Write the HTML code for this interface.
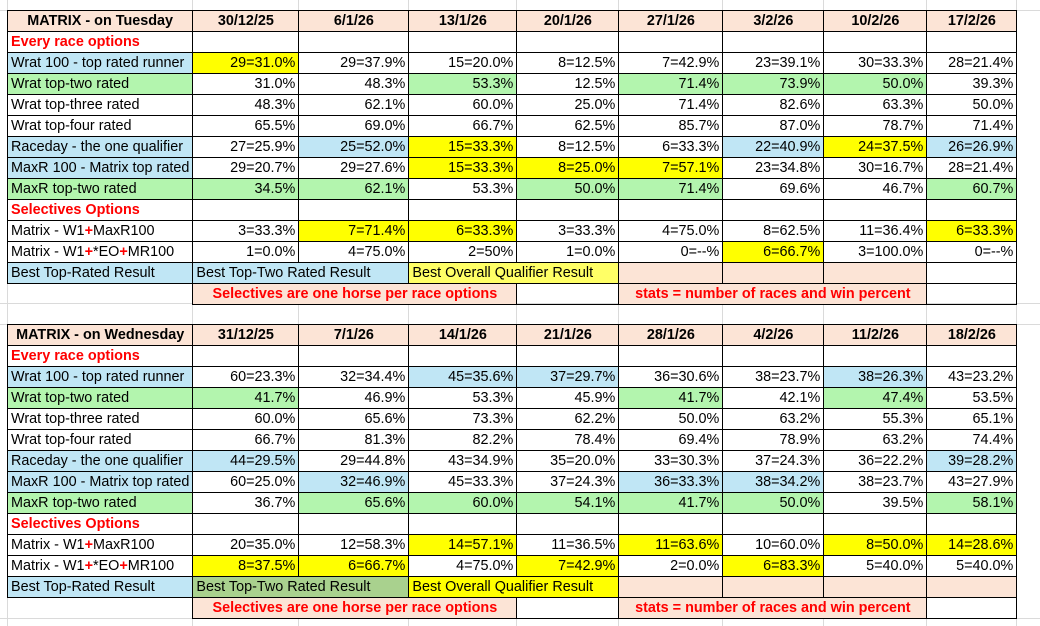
<!DOCTYPE html>
<html><head><meta charset="utf-8"><style>
body{margin:0;width:1040px;height:626px;background:#fff;position:relative;overflow:hidden;font-family:"Liberation Sans",sans-serif;}
.gv{position:absolute;top:0;height:626px;width:1px;background:#dadada}
.gh{position:absolute;left:0;width:1040px;height:1px;background:#dadada}
table{position:absolute;left:7px;border-collapse:collapse;table-layout:fixed;font-size:14.4px;color:#000}
td{border:1px solid #000;height:20px;padding:0 3px;white-space:nowrap;overflow:hidden;text-align:right;line-height:20px}
td.l{text-align:left}
tr.h td{background:#fce4d6;font-weight:bold;text-align:center}
.r{color:#f00;font-weight:bold;text-align:left}
.b{background:#c0e6f5}.g{background:#b3f5ae}.y{background:#ffff00}.p{background:#fce4d6}.ly{background:#ffff66}.dg{background:#a9d18e}
.n{border:none;background:transparent}
.note{color:#f00;font-weight:bold;text-align:center}
.plus{color:#f00;font-weight:bold}
</style></head><body>
<div class="gv" style="left:7px"></div><div class="gv" style="left:192px"></div><div class="gv" style="left:298px"></div><div class="gv" style="left:408px"></div><div class="gv" style="left:516px"></div><div class="gv" style="left:618px"></div><div class="gv" style="left:722px"></div><div class="gv" style="left:823px"></div><div class="gv" style="left:926px"></div><div class="gv" style="left:1016px"></div>
<div class="gh" style="top:10px"></div><div class="gh" style="top:303px"></div><div class="gh" style="top:324px"></div><div class="gh" style="top:618px"></div>

<table style="top:10px">
<colgroup><col style="width:185px"><col style="width:106px"><col style="width:110px"><col style="width:108px"><col style="width:102px"><col style="width:104px"><col style="width:101px"><col style="width:103px"><col style="width:90px"></colgroup>
<tr class="h"><td>MATRIX - on Tuesday</td><td>30/12/25</td><td>6/1/26</td><td>13/1/26</td><td>20/1/26</td><td>27/1/26</td><td>3/2/26</td><td>10/2/26</td><td>17/2/26</td></tr>
<tr><td class="r">Every race options</td><td></td><td></td><td></td><td></td><td></td><td></td><td></td><td></td></tr>
<tr><td class="l b">Wrat 100 - top rated runner</td><td class="y">29=31.0%</td><td>29=37.9%</td><td>15=20.0%</td><td>8=12.5%</td><td>7=42.9%</td><td>23=39.1%</td><td>30=33.3%</td><td>28=21.4%</td></tr>
<tr><td class="l g">Wrat top-two rated</td><td>31.0%</td><td>48.3%</td><td class="g">53.3%</td><td>12.5%</td><td class="g">71.4%</td><td class="g">73.9%</td><td class="g">50.0%</td><td>39.3%</td></tr>
<tr><td class="l">Wrat top-three rated</td><td>48.3%</td><td>62.1%</td><td>60.0%</td><td>25.0%</td><td>71.4%</td><td>82.6%</td><td>63.3%</td><td>50.0%</td></tr>
<tr><td class="l">Wrat top-four rated</td><td>65.5%</td><td>69.0%</td><td>66.7%</td><td>62.5%</td><td>85.7%</td><td>87.0%</td><td>78.7%</td><td>71.4%</td></tr>
<tr><td class="l b">Raceday - the one qualifier</td><td>27=25.9%</td><td class="b">25=52.0%</td><td class="y">15=33.3%</td><td>8=12.5%</td><td>6=33.3%</td><td class="b">22=40.9%</td><td class="y">24=37.5%</td><td class="b">26=26.9%</td></tr>
<tr><td class="l b">MaxR 100 - Matrix top rated</td><td>29=20.7%</td><td>29=27.6%</td><td class="y">15=33.3%</td><td class="y">8=25.0%</td><td class="y">7=57.1%</td><td>23=34.8%</td><td>30=16.7%</td><td>28=21.4%</td></tr>
<tr><td class="l g">MaxR top-two rated</td><td class="g">34.5%</td><td class="g">62.1%</td><td>53.3%</td><td class="g">50.0%</td><td class="g">71.4%</td><td>69.6%</td><td>46.7%</td><td class="g">60.7%</td></tr>
<tr><td class="r">Selectives Options</td><td></td><td></td><td></td><td></td><td></td><td></td><td></td><td></td></tr>
<tr><td class="l">Matrix - W1<span class="plus">+</span>MaxR100</td><td>3=33.3%</td><td class="y">7=71.4%</td><td class="y">6=33.3%</td><td>3=33.3%</td><td>4=75.0%</td><td>8=62.5%</td><td>11=36.4%</td><td class="y">6=33.3%</td></tr>
<tr><td class="l">Matrix - W1<span class="plus">+</span>*EO<span class="plus">+</span>MR100</td><td>1=0.0%</td><td>4=75.0%</td><td>2=50%</td><td>1=0.0%</td><td>0=--%</td><td class="y">6=66.7%</td><td>3=100.0%</td><td>0=--%</td></tr>
<tr><td class="l b">Best Top-Rated Result</td><td class="l b" colspan="2">Best Top-Two Rated Result</td><td class="l ly" colspan="2">Best Overall Qualifier Result</td><td class="p"></td><td class="p"></td><td class="p"></td><td></td></tr>
<tr><td class="n"></td><td class="p note" colspan="3">Selectives are one horse per race options</td><td></td><td class="p note" colspan="3">stats = number of races and win percent</td><td></td></tr>
</table>

<table style="top:324px">
<colgroup><col style="width:185px"><col style="width:106px"><col style="width:110px"><col style="width:108px"><col style="width:102px"><col style="width:104px"><col style="width:101px"><col style="width:103px"><col style="width:90px"></colgroup>
<tr class="h"><td>MATRIX - on Wednesday</td><td>31/12/25</td><td>7/1/26</td><td>14/1/26</td><td>21/1/26</td><td>28/1/26</td><td>4/2/26</td><td>11/2/26</td><td>18/2/26</td></tr>
<tr><td class="r">Every race options</td><td></td><td></td><td></td><td></td><td></td><td></td><td></td><td></td></tr>
<tr><td class="l b">Wrat 100 - top rated runner</td><td>60=23.3%</td><td>32=34.4%</td><td class="b">45=35.6%</td><td class="b">37=29.7%</td><td>36=30.6%</td><td>38=23.7%</td><td class="b">38=26.3%</td><td>43=23.2%</td></tr>
<tr><td class="l g">Wrat top-two rated</td><td class="g">41.7%</td><td>46.9%</td><td>53.3%</td><td>45.9%</td><td class="g">41.7%</td><td>42.1%</td><td class="g">47.4%</td><td>53.5%</td></tr>
<tr><td class="l">Wrat top-three rated</td><td>60.0%</td><td>65.6%</td><td>73.3%</td><td>62.2%</td><td>50.0%</td><td>63.2%</td><td>55.3%</td><td>65.1%</td></tr>
<tr><td class="l">Wrat top-four rated</td><td>66.7%</td><td>81.3%</td><td>82.2%</td><td>78.4%</td><td>69.4%</td><td>78.9%</td><td>63.2%</td><td>74.4%</td></tr>
<tr><td class="l b">Raceday - the one qualifier</td><td class="b">44=29.5%</td><td>29=44.8%</td><td>43=34.9%</td><td>35=20.0%</td><td>33=30.3%</td><td>37=24.3%</td><td>36=22.2%</td><td class="b">39=28.2%</td></tr>
<tr><td class="l b">MaxR 100 - Matrix top rated</td><td>60=25.0%</td><td class="b">32=46.9%</td><td>45=33.3%</td><td>37=24.3%</td><td class="b">36=33.3%</td><td class="b">38=34.2%</td><td>38=23.7%</td><td>43=27.9%</td></tr>
<tr><td class="l g">MaxR top-two rated</td><td>36.7%</td><td class="g">65.6%</td><td class="g">60.0%</td><td class="g">54.1%</td><td class="g">41.7%</td><td class="g">50.0%</td><td>39.5%</td><td class="g">58.1%</td></tr>
<tr><td class="r">Selectives Options</td><td></td><td></td><td></td><td></td><td></td><td></td><td></td><td></td></tr>
<tr><td class="l">Matrix - W1<span class="plus">+</span>MaxR100</td><td>20=35.0%</td><td>12=58.3%</td><td class="y">14=57.1%</td><td>11=36.5%</td><td class="y">11=63.6%</td><td>10=60.0%</td><td class="y">8=50.0%</td><td class="y">14=28.6%</td></tr>
<tr><td class="l">Matrix - W1<span class="plus">+</span>*EO<span class="plus">+</span>MR100</td><td class="y">8=37.5%</td><td class="y">6=66.7%</td><td>4=75.0%</td><td class="y">7=42.9%</td><td>2=0.0%</td><td class="y">6=83.3%</td><td>5=40.0%</td><td>5=40.0%</td></tr>
<tr><td class="l b">Best Top-Rated Result</td><td class="l dg" colspan="2">Best Top-Two Rated Result</td><td class="l y" colspan="2">Best Overall Qualifier Result</td><td class="p"></td><td class="p"></td><td class="p"></td><td class="p"></td></tr>
<tr><td class="n"></td><td class="p note" colspan="3">Selectives are one horse per race options</td><td></td><td class="p note" colspan="3">stats = number of races and win percent</td><td></td></tr>
</table>
</body></html>
